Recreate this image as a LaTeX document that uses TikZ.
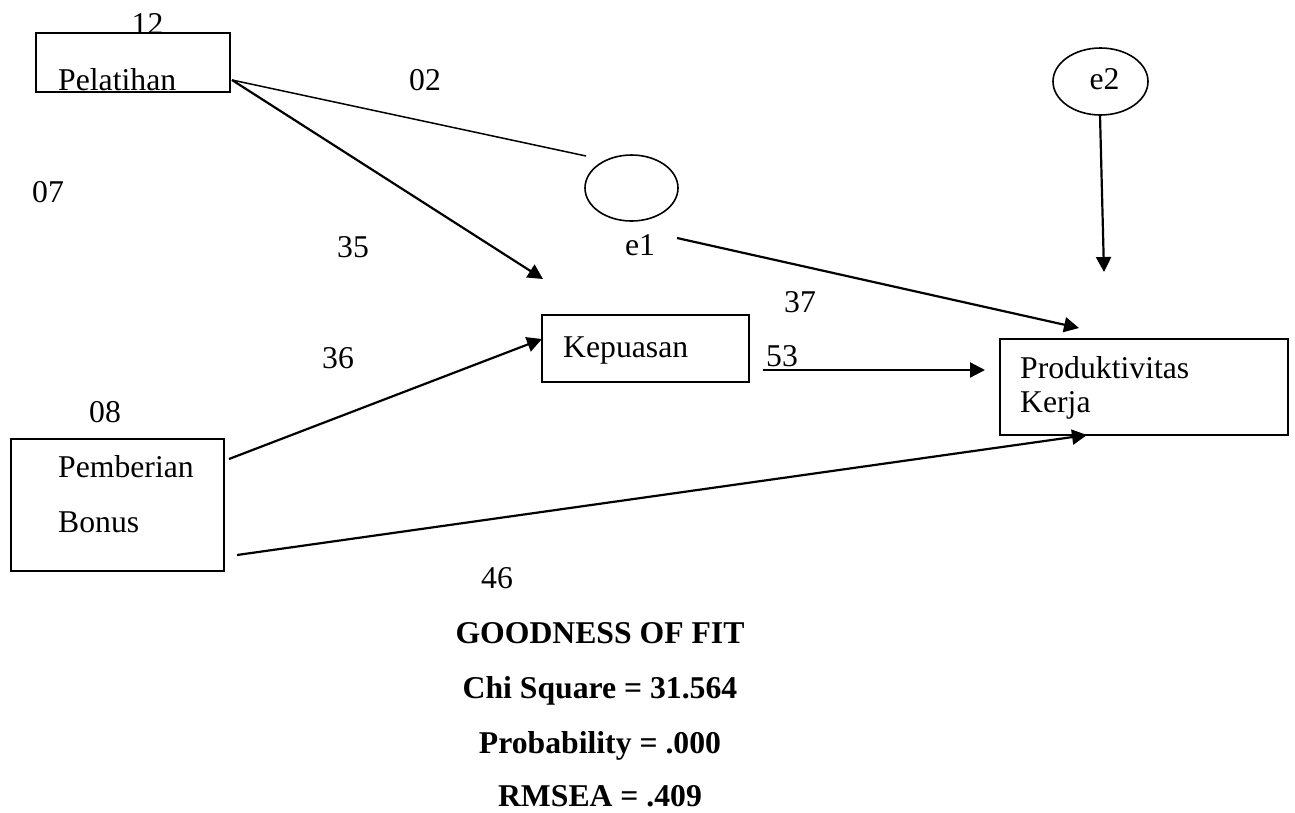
\documentclass[tikz,border=0pt]{standalone}
\usepackage{fontspec}
\setmainfont{Liberation Serif}
\usetikzlibrary{arrows.meta,shapes.geometric}
\begin{document}
\begin{tikzpicture}[x=1pt,y=-1pt,
  font=\fontsize{31.7}{38}\selectfont,
  box/.style={draw,line width=1.8pt,inner sep=0pt},
  err/.style={draw,ellipse,line width=1.6pt,inner sep=0pt},
  txt/.style={anchor=base west,inner sep=0pt},
  lbl/.style={anchor=base,inner sep=0pt},
  fit/.style={anchor=base,inner sep=0pt,font=\fontsize{31.7}{38}\selectfont\bfseries},
  arr/.style={line width=2.2pt,-{Triangle[length=15pt,width=15pt]}},
  thin/.style={line width=1.5pt}]
\useasboundingbox (0,0) rectangle (1295,812);

% boxes
\node[box,minimum width=194pt,minimum height=59.6pt] (pel) at (133,62.5) {};
\node[box,minimum width=207pt,minimum height=67pt] (kep) at (645.5,348.5) {};
\node[box,minimum width=288pt,minimum height=96pt] (prod) at (1144,387) {};
\node[box,minimum width=213pt,minimum height=132pt] (bon) at (117.3,505) {};
% error terms
\node[err,minimum width=93pt,minimum height=66pt] (e1) at (631.5,188) {};
\node[err,minimum width=95pt,minimum height=67pt] (e2) at (1100.5,81.5) {};

% box texts
\node[txt] (tpel) at (58,90) {Pelatihan};
\node[txt] (tkep) at (563,357) {Kepuasan};
\node[txt] (tprod1) at (1020,378) {Produktivitas};
\node[txt] (tprod2) at (1020,412) {Kerja};
\node[txt] (tbon1) at (58,477) {Pemberian};
\node[txt] (tbon2) at (58,532) {Bonus};
\node[lbl] (te2) at (1104.5,89) {e2};

% labels
\node[lbl] (l12) at (147.5,34.7) {12};
\node[lbl] (l02) at (425,90) {02};
\node[lbl] (l07) at (48,202) {07};
\node[lbl] (l35) at (353,257) {35};
\node[lbl] (le1) at (640,255) {e1};
\node[lbl] (l37) at (800,312) {37};
\node[lbl] (l36) at (338,368) {36};
\node[lbl] (l53) at (782,366) {53};
\node[lbl] (l08) at (105,422) {08};
\node[lbl] (l46) at (497,588) {46};

% goodness of fit
\node[fit] (g0) at (600,643) {GOODNESS OF FIT};
\node[fit] (g1) at (600,698) {Chi Square = 31.564};
\node[fit] (g2) at (600,753) {Probability = .000};
\node[fit] (g3) at (600,806) {RMSEA = .409};

% connector end points
\coordinate (pelR) at (232,80);
\coordinate (e1L) at (586,156);
\coordinate (kepTip) at (543,279);
\coordinate (bonA) at (229,459);
\coordinate (kepL) at (542,339);
\coordinate (bonB) at (237,555);
\coordinate (prodB) at (1087,435);
\coordinate (e1R) at (677,238);
\coordinate (prodT) at (1079,328);
\coordinate (kepR) at (763,370);
\coordinate (prodL) at (985,370);
\coordinate (e2B) at (1100,115);
\coordinate (e2Tip) at (1104,272);

% connectors
\draw[thin] (pelR) -- (e1L);
\draw[arr] (pelR) -- (kepTip);
\draw[arr] (bonA) -- (kepL);
\draw[arr] (bonB) -- (prodB);
\draw[arr] (e1R) -- (prodT);
\draw[arr] (kepR) -- (prodL);
\draw[arr] (e2B) -- (e2Tip);
\end{tikzpicture}
\end{document}
